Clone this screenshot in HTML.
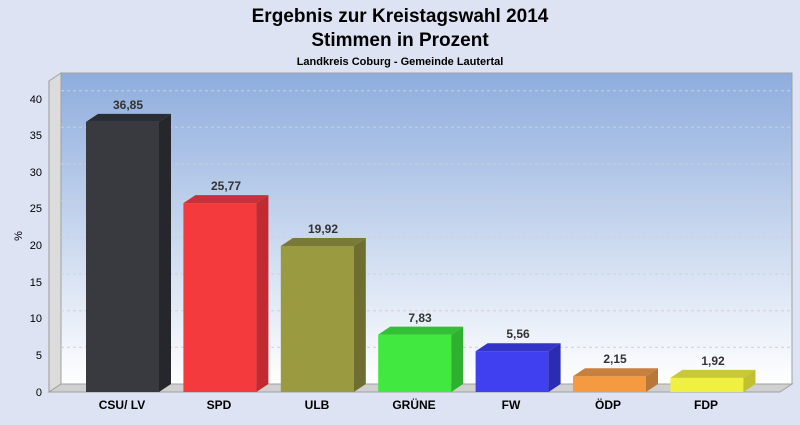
<!DOCTYPE html>
<html><head><style>
body{margin:0;width:800px;height:420px;background:#dde3f3;font-family:"Liberation Sans",Arial,sans-serif;overflow:hidden}
</style></head><body>
<svg width="800" height="420" xmlns="http://www.w3.org/2000/svg" font-family="Liberation Sans, Arial, sans-serif">
<defs>
<linearGradient id="bg" x1="0" y1="0" x2="0" y2="1"><stop offset="0" stop-color="#8eaddd"/><stop offset="1" stop-color="#ffffff"/></linearGradient>
</defs>
<text x="400" y="22" text-anchor="middle" font-size="19" font-weight="bold">Ergebnis zur Kreistagswahl 2014</text>
<text x="400" y="46" text-anchor="middle" font-size="19" font-weight="bold">Stimmen in Prozent</text>
<text x="400" y="65" text-anchor="middle" font-size="11" font-weight="bold">Landkreis Coburg - Gemeinde Lautertal</text>
<rect x="61" y="73" width="731" height="311" fill="url(#bg)" stroke="#a0a0a0"/>
<polygon points="49,81 61,73 61,384 49,392" fill="#dcdcdc" stroke="#a0a0a0"/>
<polygon points="49,392 61,384 792,384 780,392" fill="#d0d0d0" stroke="#a0a0a0"/>
<g stroke="#d0d0d0" stroke-dasharray="3,3">
<line x1="61" y1="347.3" x2="792" y2="347.3"/><line x1="61" y1="310.7" x2="792" y2="310.7"/>
<line x1="61" y1="274" x2="792" y2="274"/><line x1="61" y1="237.3" x2="792" y2="237.3"/>
<line x1="61" y1="200.7" x2="792" y2="200.7"/><line x1="61" y1="164" x2="792" y2="164"/>
<line x1="61" y1="127.3" x2="792" y2="127.3"/><line x1="61" y1="90.7" x2="792" y2="90.7"/>
</g>
<line x1="49" y1="81" x2="49" y2="392" stroke="#999"/>
<g font-size="11" text-anchor="end">
<text x="42" y="396">0</text><text x="42" y="359">5</text><text x="42" y="322">10</text><text x="42" y="286">15</text><text x="42" y="249">20</text><text x="42" y="212">25</text><text x="42" y="176">30</text><text x="42" y="139">35</text><text x="42" y="103">40</text>
</g>
<text x="22" y="236" font-size="11" transform="rotate(-90 22 236)" text-anchor="middle">%</text>

<g>
<rect x="86" y="121.9" width="73" height="270.1" fill="#383a40"/>
<polygon points="159,121.9 171,113.9 171,384 159,392" fill="#25272d"/>
<polygon points="86,121.9 98,113.9 171,113.9 159,121.9" fill="#2a2d33"/>

<rect x="183.4" y="203.1" width="73" height="188.9" fill="#f53a3e"/>
<polygon points="256.4,203.1 268.4,195.1 268.4,384 256.4,392" fill="#c02a30"/>
<polygon points="183.4,203.1 195.4,195.1 268.4,195.1 256.4,203.1" fill="#c8303a"/>

<rect x="280.8" y="246" width="73" height="146" fill="#9a9a40"/>
<polygon points="353.8,246 365.8,238 365.8,384 353.8,392" fill="#6e6e30"/>
<polygon points="280.8,246 292.8,238 365.8,238 353.8,246" fill="#7a7a38"/>

<rect x="378.2" y="334.6" width="73" height="57.4" fill="#40e840"/>
<polygon points="451.2,334.6 463.2,326.6 463.2,384 451.2,392" fill="#30b030"/>
<polygon points="378.2,334.6 390.2,326.6 463.2,326.6 451.2,334.6" fill="#34c034"/>

<rect x="475.6" y="351.2" width="73" height="40.8" fill="#4040f0"/>
<polygon points="548.6,351.2 560.6,343.2 560.6,384 548.6,392" fill="#2c2cb0"/>
<polygon points="475.6,351.2 487.6,343.2 560.6,343.2 548.6,351.2" fill="#3434c8"/>

<rect x="573" y="376.2" width="73" height="15.8" fill="#f59a40"/>
<polygon points="646,376.2 658,368.2 658,384 646,392" fill="#b87838"/>
<polygon points="573,376.2 585,368.2 658,368.2 646,376.2" fill="#c88040"/>

<rect x="670.4" y="377.9" width="73" height="14.1" fill="#f0f040"/>
<polygon points="743.4,377.9 755.4,369.9 755.4,384 743.4,392" fill="#c0c030"/>
<polygon points="670.4,377.9 682.4,369.9 755.4,369.9 743.4,377.9" fill="#c8c838"/>
</g>

<g font-size="12" font-weight="bold" text-anchor="middle" fill="#333">
<text x="128" y="109">36,85</text>
<text x="226" y="190">25,77</text>
<text x="323" y="233">19,92</text>
<text x="420" y="322">7,83</text>
<text x="518" y="338">5,56</text>
<text x="615" y="363">2,15</text>
<text x="713" y="365">1,92</text>
</g>

<g font-size="12" font-weight="bold" text-anchor="middle">
<text x="122" y="409">CSU/ LV</text><text x="219" y="409">SPD</text><text x="317" y="409">ULB</text><text x="414" y="409">GRÜNE</text><text x="511" y="409">FW</text><text x="608" y="409">ÖDP</text><text x="706" y="409">FDP</text>
</g>
</svg>
</body></html>
